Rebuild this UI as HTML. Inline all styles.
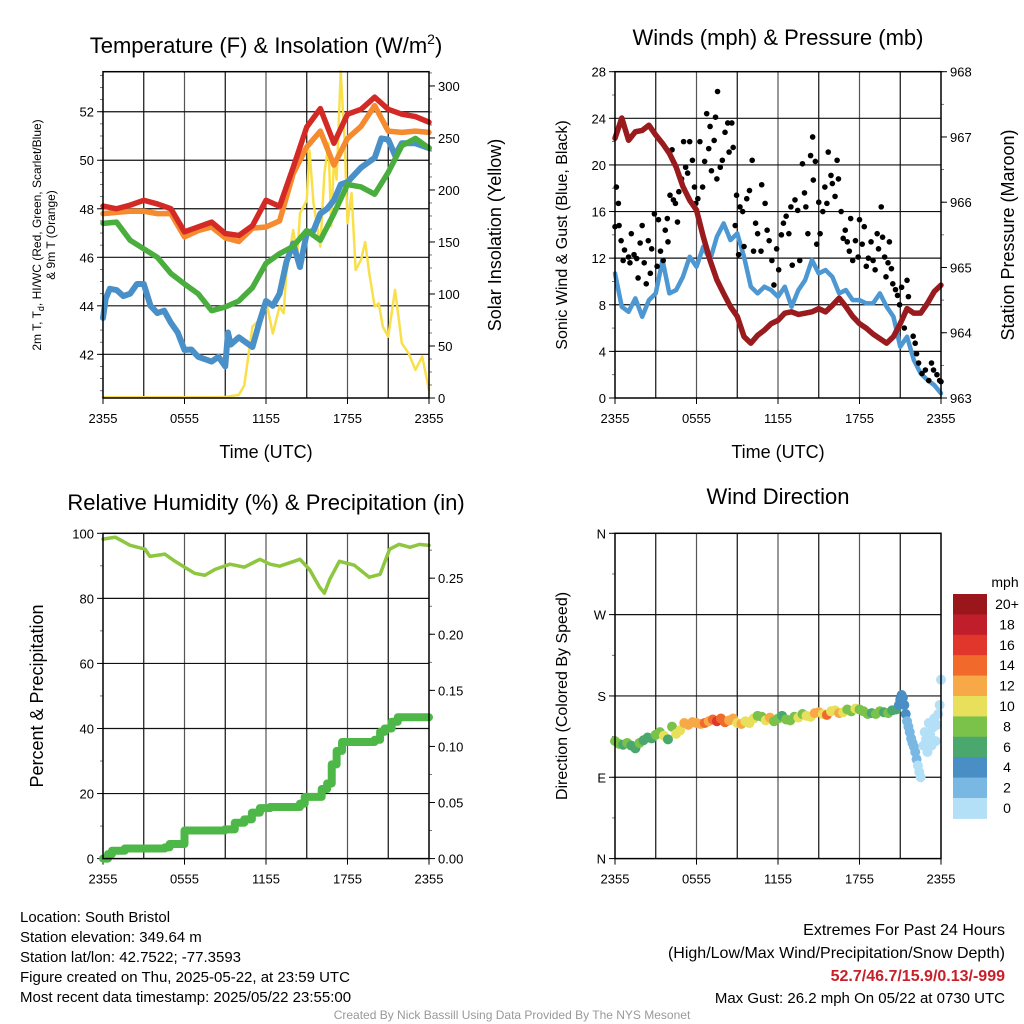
<!DOCTYPE html>
<html><head><meta charset="utf-8"><style>
html,body{margin:0;padding:0;background:#fff;}
svg{display:block;font-family:"Liberation Sans",Arial,sans-serif;}
</style></head><body>
<svg id="chart" width="1024" height="1024" viewBox="0 0 1024 1024" xmlns="http://www.w3.org/2000/svg">
<rect width="1024" height="1024" fill="#fff"/>
<g font-size="22" text-anchor="middle" fill="#000">
<text x="266" y="53">Temperature (F) &amp; Insolation (W/m<tspan font-size="14" dy="-9">2</tspan><tspan dy="9">)</tspan></text>
<text x="778" y="45">Winds (mph) &amp; Pressure (mb)</text>
<text x="266" y="510">Relative Humidity (%) &amp; Precipitation (in)</text>
<text x="778" y="504">Wind Direction</text>
</g>
<g fill="#000" text-anchor="middle">
<text x="266" y="458" font-size="18">Time (UTC)</text>
<text x="778" y="458" font-size="18">Time (UTC)</text>
<text font-size="12" transform="translate(41,235) rotate(-90)">2m T, T<tspan font-size="9" dy="3">d</tspan><tspan dy="-3">, HI/WC (Red, Green, Scarlet/Blue)</tspan></text>
<text font-size="12" transform="translate(55,235) rotate(-90)">&amp; 9m T (Orange)</text>
<text font-size="18" transform="translate(501,235) rotate(-90)">Solar Insolation (Yellow)</text>
<text font-size="16" transform="translate(567,235) rotate(-90)">Sonic Wind &amp; Gust (Blue, Black)</text>
<text font-size="18" transform="translate(1014,235) rotate(-90)">Station Pressure (Maroon)</text>
<text font-size="18" transform="translate(43,696) rotate(-90)">Percent &amp; Precipitation</text>
<text font-size="16" transform="translate(567,696) rotate(-90)">Direction (Colored By Speed)</text>
</g>
<g font-size="15" fill="#000">
<text x="20" y="922">Location: South Bristol</text>
<text x="20" y="942">Station elevation: 349.64 m</text>
<text x="20" y="962">Station lat/lon: 42.7522; -77.3593</text>
<text x="20" y="982">Figure created on Thu, 2025-05-22, at 23:59 UTC</text>
<text x="20" y="1002">Most recent data timestamp: 2025/05/22 23:55:00</text>
</g>
<g font-size="16" fill="#000" text-anchor="end">
<text x="1005" y="935">Extremes For Past 24 Hours</text>
<text x="1005" y="958">(High/Low/Max Wind/Precipitation/Snow Depth)</text>
<text x="1005" y="981" fill="#c8202a" font-weight="bold">52.7/46.7/15.9/0.13/-999</text>
<text x="1005" y="1003" font-size="15">Max Gust: 26.2 mph On 05/22 at 0730 UTC</text>
</g>
<text x="512" y="1019" font-size="12" fill="#999" text-anchor="middle">Created By Nick Bassill Using Data Provided By The NYS Mesonet</text>
</svg>
<script>
// ---- Time axis ----
const timeTickHours = [0, 6, 12, 18, 24];
const timeTickLabels = ["2355", "0555", "1155", "1755", "2355"];
const hourly = [0,1,2,3,4,5,6,7,8,9,10,11,12,13,14,15,16,17,18,19,20,21,22,23,24];
// ---- Temperature panel ----
const tempTicks = [42, 44, 46, 48, 50, 52];
const solarTicks = [0, 50, 100, 150, 200, 250, 300];
const temp2m = [48.11,48.0,48.15,48.35,48.2,48.0,47.05,47.25,47.45,46.98,46.9,47.3,48.35,48.1,49.7,51.37,52.13,50.7,51.9,52.1,52.6,52.1,51.9,51.8,51.57];
const temp9m = [47.8,47.85,47.9,47.9,47.8,47.8,46.84,47.1,47.25,46.8,46.65,47.2,47.25,47.5,49.45,50.55,51.2,49.8,50.9,51.4,52.25,51.2,51.15,51.2,51.15];
const dewpoint = [47.4,47.45,46.7,46.35,46.0,45.33,44.9,44.5,43.8,43.95,44.2,44.75,45.75,46.15,46.45,47.1,46.7,47.8,49.0,48.9,48.6,49.5,50.6,50.9,50.5];
const heatIndexHours = [0,0.2,0.5,1,1.5,2,2.5,3,3.5,4,4.5,5,5.5,6,6.5,7,7.5,8,8.5,9,9.2,9.4,10,11,11.5,12,12.5,13,13.5,14,14.5,15,15.5,16,16.5,17,17.5,18,19,20,20.5,21,21.5,22,23,24];
const heatIndex = [43.5,44.3,44.7,44.65,44.4,44.5,44.9,44.9,44.0,43.7,43.8,43.3,42.9,42.18,42.2,41.9,41.8,41.7,41.9,41.5,42.9,42.4,42.7,42.3,43.3,44.2,44.0,44.5,45.8,46.57,45.6,47.0,47.1,47.8,48.0,48.35,49.0,49.1,49.7,50.1,50.9,50.85,50.2,50.7,50.7,50.5];
const solarHours = [0,4,8,9,10,10.4,11,11.5,12,12.5,13,13.3,13.5,14,14.3,14.5,15,15.2,15.5,16,16.3,16.6,16.8,17,17.2,17.5,17.8,18,18.3,18.6,19,19.3,19.6,20,20.3,20.6,21,21.5,22,22.5,23,23.5,24];
const solarVals = [0.7,0.7,0.7,1,3,12,68.6,75,94,62,88,81.4,120,161.5,136,177.6,190,238,187,145.5,216,245,165,229,210,314,245,168,197,123,133,150,120,88,91,68.6,59,104,52.6,43,27,40,7.7];
// ---- Wind panel ----
const windTicks = [0, 4, 8, 12, 16, 20, 24, 28];
const pressTicks = [963, 964, 965, 966, 967, 968];
const halfHours = [0,0.5,1,1.5,2,2.5,3,3.5,4,4.5,5,5.5,6,6.5,7,7.5,8,8.5,9,9.5,10,10.5,11,11.5,12,12.5,13,13.5,14,14.5,15,15.5,16,16.5,17,17.5,18,18.5,19,19.5,20,20.5,21,21.5,22,22.5,23,23.5,24];
const pressure = [966.98,967.29,966.95,967.08,967.1,967.18,967.03,966.9,966.75,966.54,966.24,966.03,965.88,965.47,965.11,964.81,964.6,964.4,964.25,963.94,963.84,963.96,964.04,964.14,964.19,964.3,964.32,964.28,964.3,964.32,964.37,964.32,964.42,964.53,964.4,964.25,964.14,964.07,963.98,963.91,963.84,963.94,964.14,964.37,964.3,964.3,964.45,964.63,964.73];
const sonicWind = [10.69,7.83,7.4,8.55,6.97,8.4,8.98,11.84,8.98,9.26,10.4,12.12,11.26,12.98,11.84,13.84,14.98,13.55,14.12,12.12,9.55,8.98,9.55,9.26,8.69,9.55,7.83,9.26,10.12,11.84,10.69,10.98,10.4,8.98,9.26,8.4,8.4,8.12,8.12,8.98,7.83,6.97,4.4,5.26,3.26,2.12,1.54,1.11,0.4];
const gustHours = [0,0.1,0.25,0.3,0.45,0.6,0.7,1.0,1.1,1.2,1.4,1.6,1.7,1.85,2.0,2.15,2.3,2.45,2.6,2.7,2.9,3.1,3.2,3.35,3.55,3.7,3.85,3.9,4.05,4.2,4.3,4.45,4.6,4.7,4.9,5.05,5.2,5.35,5.5,5.7,5.85,5.95,6.1,6.25,6.45,6.6,6.75,6.9,7.0,7.1,7.3,7.4,7.5,7.55,7.75,7.9,8.1,8.3,8.4,8.6,8.7,8.85,8.95,9.1,9.2,9.4,9.5,9.7,9.9,10.1,10.2,10.35,10.5,10.75,10.8,11.05,11.2,11.35,11.55,11.7,11.9,12.05,12.25,12.4,12.6,12.8,12.95,13.05,13.25,13.45,13.6,13.8,13.95,14.05,14.2,14.4,14.55,14.6,14.75,14.85,15.0,15.1,15.3,15.45,15.6,15.7,15.9,16.0,16.2,16.35,16.45,16.65,16.8,16.95,17.1,17.25,17.35,17.5,17.7,17.9,18.0,18.2,18.35,18.5,18.65,18.85,19.0,19.15,19.3,19.4,19.6,19.7,19.85,19.95,20.1,20.2,20.35,20.45,20.65,20.8,20.95,21.1,21.3,21.5,21.6,21.95,22.1,22.2,22.35,22.6,22.85,23.1,23.3,23.45,23.7,23.9,24];
const gustVals = [14.7,18.1,16.7,14.8,13.5,11.8,12.7,12.1,11.6,14.1,12.3,11.97,10.3,13.3,14.8,11.6,9.8,13.5,10.7,12.8,15.8,11.3,15.3,12.6,11.8,14.4,15.4,13.4,17.4,21.3,17.0,16.7,15.1,17.7,18.8,22.0,19.8,19.3,22.0,20.4,18.1,16.7,17.1,22.0,18.1,20.3,24.4,21.4,23.3,19.5,22.1,24.1,18.8,26.3,19.8,20.4,22.8,23.6,21.1,23.6,21.5,14.8,17.4,12.3,16.4,16.0,13.0,17.1,17.8,20.4,12.6,15.0,14.1,12.6,18.3,16.7,14.4,13.5,11.8,9.7,12.8,11.0,14.0,15.0,15.6,14.1,16.4,11.4,17.0,16.1,11.8,20.1,17.6,16.4,14.1,20.8,22.4,18.7,20.3,13.2,16.8,14.1,16.0,18.1,16.7,21.1,19.1,18.4,17.3,20.4,18.8,16.0,13.7,14.4,13.4,12.6,15.4,11.8,13.5,12.1,15.3,13.2,14.7,11.3,12.0,13.4,11.8,11.0,14.1,12.8,16.4,13.8,12.1,10.4,11.6,13.4,11.1,9.8,9.3,8.8,8.0,9.5,6.0,10.1,8.7,5.3,4.7,3.8,3.0,2.1,2.4,1.5,3.0,2.4,2.0,1.5,1.4];
// ---- RH / precip panel ----
const pctTicks = [0, 20, 40, 60, 80, 100];
const precipTicks = [0, 0.05, 0.10, 0.15, 0.20, 0.25];
const precipTickLabels = ["0.00","0.05","0.10","0.15","0.20","0.25"];
const rhHours = [0,0.9,2.0,3.1,3.45,4.55,5.3,6.0,6.75,7.5,8.25,9.35,10.4,11.55,12.3,13.0,14.5,15.2,15.95,16.3,16.7,17.4,18.5,19.6,20.4,21.1,21.8,22.6,23.3,24];
const rhVals = [98.2,98.8,96.3,95.1,92.9,93.6,91.4,89.6,87.7,87.1,88.9,90.5,89.6,92.0,90.5,89.9,92.0,88.9,83.4,81.6,85.9,91.4,90.2,86.5,87.4,95.1,96.6,95.7,96.6,96.3];
const precipHours = [0,0.37,0.66,1.6,4.55,4.9,5.66,6.0,8.97,9.7,10.4,10.96,11.55,12.3,14.5,14.85,16.1,16.5,16.84,17.2,17.6,20.0,20.4,20.74,21.25,21.7,24];
const precipVals = [0,0.004,0.007,0.009,0.010,0.013,0.013,0.025,0.026,0.032,0.035,0.041,0.045,0.046,0.049,0.055,0.062,0.067,0.084,0.096,0.104,0.106,0.113,0.116,0.122,0.126,0.126];
// ---- Wind direction panel ----
const dirTicks = [0, 90, 180, 270, 360];
const dirTickLabels = ["N", "E", "S", "W", "N"];
const dirHours = [0,0.3,0.6,0.9,1.2,1.5,1.8,2.1,2.4,2.7,3.0,3.3,3.6,3.9,4.2,4.5,4.8,5.1,5.4,5.7,6.0,6.3,6.6,6.9,7.2,7.5,7.8,8.1,8.4,8.7,9.0,9.3,9.6,9.9,10.2,10.5,10.8,11.1,11.4,11.7,12.0,12.3,12.6,12.9,13.2,13.5,13.8,14.1,14.4,14.7,15.0,15.3,15.6,15.9,16.2,16.5,16.8,17.1,17.4,17.7,18.0,18.3,18.6,18.9,19.2,19.5,19.8,20.1,20.4,20.7,
 20.9,21.0,21.1,21.2,21.3,21.4,21.5,21.6,21.7,21.8,21.9,22.0,22.1,22.2,22.3,22.4,22.5,
 22.7,22.8,22.9,23.0,23.1,23.2,23.3,23.4,23.5,23.6,23.7,23.8,23.9,24];
const dirVals = [130,127,126,128,125,122,128,131,134,133,137,140,136,132,146,138,142,150,148,151,150,149,150,152,154,152,155,151,153,155,150,149,152,150,155,158,157,153,156,152,155,158,154,153,157,156,160,158,157,161,162,160,159,163,164,161,162,165,163,166,165,163,160,161,160,163,162,161,164,165,
 170,176,181,178,170,160,152,146,140,133,128,124,118,110,103,96,90,
 125,140,132,118,150,137,125,145,155,130,148,160,170,198];
const dirSpeeds = [9,8,7,8,6,7,8,7,6,7,8,9,10,6,8,11,10,12,12,13,12,13,14,13,15,16,15,14,13,12,11,12,10,11,10,8,9,10,12,9,8,7,8,9,8,10,9,11,10,12,13,11,14,10,11,12,11,9,8,10,9,8,8,7,8,8,7,8,7,6,
 5,4,4,4,5,4,3,3,3,3,2,2,2,2,1,1,1,
 1,0,1,0,1,0,1,0,1,0,0,1,0,0];
const speedColors = ["#b3e0f7","#7ab8e4","#4a8ec6","#4aa86e","#7bc24b","#e8e05a","#f8a947","#f26a2b","#e1362c","#bf1e2a","#9b161b"];
const speedLabels = ["0","2","4","6","8","10","12","14","16","18","20+"];

const NS = "http://www.w3.org/2000/svg";
const svg = document.getElementById("chart");
function mk(tag, attrs, parent) {
  const e = document.createElementNS(NS, tag);
  for (const k in attrs) e.setAttribute(k, attrs[k]);
  (parent || svg).appendChild(e);
  return e;
}
function lin(d0, d1, r0, r1) { return v => r0 + (v - d0) / (d1 - d0) * (r1 - r0); }

const panels = {
  temp: {x0:103, x1:429, y0:71.7, y1:398, l:[40.2,53.65], r:[0,313.7], lm:0.5, rm:12.5},
  wind: {x0:615, x1:941, y0:71.7, y1:398, l:[0,28], r:[963,968], lm:2, rm:0.5},
  rh:   {x0:103, x1:429, y0:533.3, y1:858.6, l:[0,100], r:[0,0.29], lm:10, rm:0.025},
  dir:  {x0:615, x1:941, y0:533.3, y1:858.6, l:[0,360], r:null, lm:45}
};
for (const k in panels) {
  const p = panels[k];
  p.x = lin(0, 24, p.x0, p.x1);
  p.yl = lin(p.l[0], p.l[1], p.y1, p.y0);
  if (p.r) p.yr = lin(p.r[0], p.r[1], p.y1, p.y0);
}

function frame(name, p, lTicks, lLabels, rTicks, rLabels) {
  const g = mk("g", {});
  
  
  for (let h = 3; h < 24; h += 3) {
    const ln = mk("line", {x1:p.x(h), x2:p.x(h), y1:p.y0, y2:p.y1, stroke: h%6===0 ? "#555" : "#111", "stroke-width":1.2}, g);
    
    
  }
  // minor ticks
  for (let v = Math.ceil(p.l[0]/p.lm)*p.lm; v <= p.l[1]; v += p.lm) {
    const y = p.yl(v);
    const mt = mk("line", {x1:p.x0-3, x2:p.x0, y1:y, y2:y, stroke:"#555", "stroke-width":0.8}, g);
    
    
  }
  if (p.r) for (let v = Math.ceil(p.r[0]/p.rm)*p.rm; v <= p.r[1]; v += p.rm) {
    const y = p.yr(v);
    const mt = mk("line", {x1:p.x1, x2:p.x1+3, y1:y, y2:y, stroke:"#555", "stroke-width":0.8}, g);
    
    
  }
  lTicks.forEach((v, i) => {
    const y = p.yl(v);
    if (y > p.y0 + 1 && y < p.y1 - 1) {
      const gl = mk("line", {x1:p.x0, x2:p.x1, y1:y, y2:y, stroke:"#111", "stroke-width":1.2}, g);
      
      
    }
    const tk = mk("line", {x1:p.x0-6, x2:p.x0, y1:y, y2:y, stroke:"#000", "stroke-width":1}, g);
    
    
    const t = mk("text", {x:p.x0-9, y:y+5, "font-size":13, "text-anchor":"end"}, g);
    t.textContent = lLabels[i];
    
    
  });
  if (rTicks) rTicks.forEach((v, i) => {
    const y = p.yr(v);
    const tk = mk("line", {x1:p.x1, x2:p.x1+6, y1:y, y2:y, stroke:"#000", "stroke-width":1}, g);
    
    
    const t = mk("text", {x:p.x1+9, y:y+5, "font-size":13, "text-anchor":"start"}, g);
    t.textContent = rLabels[i];
    
    
  });
  timeTickHours.forEach((h, i) => {
    const tk = mk("line", {x1:p.x(h), x2:p.x(h), y1:p.y1, y2:p.y1+6, stroke:"#000", "stroke-width":1}, g);
    
    
    const t = mk("text", {x:p.x(h), y:p.y1+25, "font-size":13, "text-anchor":"middle"}, g);
    t.textContent = timeTickLabels[i];
    
    
  });
  return g;
}
function border(name, p) {
  const r = mk("rect", {x:p.x0, y:p.y0, width:p.x1-p.x0, height:p.y1-p.y0, fill:"none", stroke:"#000", "stroke-width":1.5});
  
  
}
function line(name, xs, ys, xf, yf, color, w, step) {
  let d = "";
  xs.forEach((h, i) => {
    const X = xf(h), Y = yf(ys[i]);
    if (i === 0) d += "M" + X + "," + Y;
    else if (step) d += "H" + X + "V" + Y;
    else d += "L" + X + "," + Y;
  });
  const e = mk("path", {d:d, fill:"none", stroke:color, "stroke-width":w, "stroke-linejoin":"round", "stroke-linecap":"round"});
  
  
  return e;
}

// Temperature panel
let P = panels.temp;
frame("temp", P, tempTicks, tempTicks.map(String), solarTicks, solarTicks.map(String));
line("solar-insolation-line", solarHours, solarVals, P.x, P.yr, "#f9e04b", 2.5);
line("heat-index-line", heatIndexHours, heatIndex, P.x, P.yl, "#4a90c8", 6);
line("dewpoint-line", hourly, dewpoint, P.x, P.yl, "#4aae3f", 5.5);
line("temp-9m-line", hourly, temp9m, P.x, P.yl, "#f58a2e", 5.5);
line("temp-2m-line", hourly, temp2m, P.x, P.yl, "#d42a26", 5.5);
border("temp", P);

// Wind panel
P = panels.wind;
frame("wind", P, windTicks, windTicks.map(String), pressTicks, pressTicks.map(String));
line("sonic-wind-line", halfHours, sonicWind, P.x, P.yl, "#4d98d2", 4.5);
gustHours.forEach((h, i) => {
  const c = mk("circle", {cx:P.x(h), cy:P.yl(gustVals[i]), r:2.8, fill:"#000"});
  
  
});
line("pressure-line", halfHours, pressure, P.x, P.yr, "#991b1e", 5.5);
border("wind", P);

// RH panel
P = panels.rh;
frame("rh", P, pctTicks, pctTicks.map(String), precipTicks, precipTickLabels);
line("precipitation-line", precipHours, precipVals, P.x, P.yr, "#4db848", 8, true);
line("relative-humidity-line", rhHours, rhVals, P.x, P.yl, "#8dc63f", 3.5);
border("rh", P);

// Direction panel
P = panels.dir;
frame("dir", P, dirTicks, dirTickLabels, null, null);
dirHours.forEach((h, i) => {
  const bin = Math.min(10, Math.floor(dirSpeeds[i] / 2));
  const c = mk("circle", {cx:P.x(h), cy:P.yl(dirVals[i]), r:5, fill:speedColors[bin]});
  
  
});
border("dir", P);

// Colorbar
const cb = mk("g", {});


const cbTop = 594, cbH = 20.4;
const unit = mk("text", {x:1005, y:587, "font-size":14, "text-anchor":"middle"}, cb);
unit.textContent = "mph";


for (let i = 0; i < 11; i++) {
  const idx = 10 - i;
  const r = mk("rect", {x:953, y:cbTop + i*cbH, width:34, height:cbH+0.5, fill:speedColors[idx]}, cb);
  
  
  const t = mk("text", {x:1007, y:cbTop + i*cbH + 15, "font-size":14, "text-anchor":"middle"}, cb);
  t.textContent = speedLabels[idx];
  
  
}
</script>
</body></html>
